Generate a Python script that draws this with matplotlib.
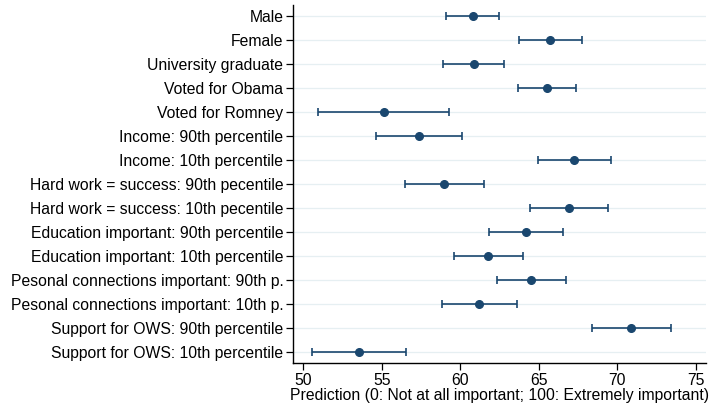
import matplotlib
matplotlib.use("Agg")
import matplotlib.pyplot as plt

labels = [
    "Male",
    "Female",
    "University graduate",
    "Voted for Obama",
    "Voted for Romney",
    "Income: 90th percentile",
    "Income: 10th percentile",
    "Hard work = success: 90th pecentile",
    "Hard work = success: 10th pecentile",
    "Education important: 90th percentile",
    "Education important: 10th percentile",
    "Pesonal connections important: 90th p.",
    "Pesonal connections important: 10th p.",
    "Support for OWS: 90th percentile",
    "Support for OWS: 10th percentile",
]
estimate = [60.8, 65.73, 60.85, 65.52, 55.12, 57.37, 67.26, 58.98,
            66.94, 64.18, 61.78, 64.52, 61.21, 70.87, 53.53]
lower = [59.09, 63.72, 58.9, 63.7, 50.98, 54.61, 64.93, 56.46,
         64.44, 61.85, 59.58, 62.34, 58.83, 68.4, 50.58]
upper = [62.48, 67.75, 62.8, 67.37, 59.3, 60.1, 69.62, 61.53,
         69.43, 66.54, 64.01, 66.73, 63.59, 73.4, 56.52]
xticks = [50, 55, 60, 65, 70, 75]

navy = "#1a476f"
plt.rcParams["font.family"] = ["Liberation Sans", "DejaVu Sans"]
fs = 11.3

fig = plt.figure(figsize=(7.14, 4.03), dpi=100)
ax = fig.add_axes([0.4104, 0.0993, 0.5784, 0.8883])

ypos = list(range(len(labels)))
for y in ypos:
    ax.axhline(y, color="#e6eff2", lw=0.9, zorder=0)

xerr = [[e - lo for e, lo in zip(estimate, lower)],
        [hi - e for e, hi in zip(estimate, upper)]]
ax.errorbar(estimate, ypos, xerr=xerr, fmt="o", color=navy, ms=5.5,
            elinewidth=1.2, capsize=3, capthick=1.2, zorder=3)

ax.set_yticks(ypos)
ax.set_yticklabels(labels, fontsize=fs)
ax.set_ylim(len(labels) - 0.54, -0.46)
ax.set_xticks(xticks)
ax.set_xticklabels([str(t) for t in xticks], fontsize=fs)
ax.set_xlim(49.36, 75.64)
ax.set_xlabel("Prediction (0: Not at all important; 100: Extremely important)",
              fontsize=fs, labelpad=0)

for side in ["top", "right"]:
    ax.spines[side].set_visible(False)
for side in ["left", "bottom"]:
    ax.spines[side].set_linewidth(1.0)
ax.tick_params(axis="both", direction="out", length=5, width=0.9, colors="black", pad=2)

fig.savefig("out.png", dpi=100)
plt.close(fig)
